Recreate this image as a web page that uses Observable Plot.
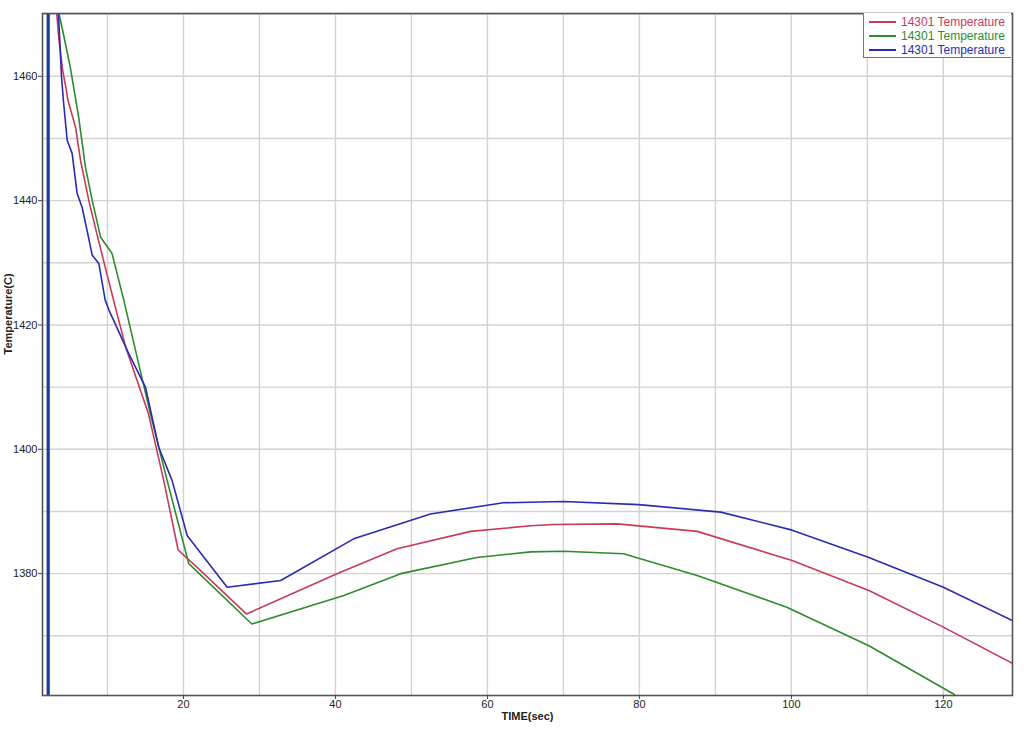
<!DOCTYPE html>
<html>
<head>
<meta charset="utf-8">
<script src="https://cdn.jsdelivr.net/npm/d3@7"></script>
<script src="https://cdn.jsdelivr.net/npm/@observablehq/plot@0.6"></script>
<style>
  html, body { margin: 0; padding: 0; background: #fff; }
  #wrap { position: relative; width: 1024px; height: 733px; font-family: "Liberation Sans", Arial, sans-serif; }
  #legend { position: absolute; left: 863px; top: 13px; width: 148px; height: 45px; border: 1px solid #777; border-top: none; border-right: none; background: #fff; font-size: 12px; box-sizing: border-box; padding-top: 2px; }
  .row { display: flex; align-items: center; height: 14px; }
  .sw { width: 27px; height: 0; border-top: 2px solid; margin-left: 5px; margin-right: 5px; }
</style>
</head>
<body>
<div id="wrap"></div>
<script>
// ---- data ----
const seriesNames = ["14301 Temperature", "14301 Temperature", "14301 Temperature"];
const seriesColors = ["#c83a58", "#2e8b2e", "#2b2bb0"];

const redTime = [3.2, 3.6, 4.1, 4.6, 4.8, 5.8, 6.45, 7.55, 8.6, 9.7, 10.8, 12.4, 15.4, 17.4, 19.3, 21.8, 28.3, 40.2, 48.1, 57.8, 65.7, 68.7, 77.1, 87.6, 100.1, 110.2, 120.0, 129.2];
const redTemp = [1472, 1466, 1461, 1457.7, 1456.1, 1451.8, 1446.5, 1440, 1434.7, 1429.3, 1424, 1416.4, 1405.7, 1395, 1383.8, 1381.0, 1373.5, 1380.0, 1384.0, 1386.8, 1387.7, 1387.9, 1388.0, 1386.8, 1382.1, 1377.3, 1371.4, 1365.5];

const greenTime = [3.4, 3.6, 4.1, 5.1, 6.2, 7.1, 8.0, 9.1, 10.6, 12.15, 13.6, 15.65, 17.85, 20.25, 20.7, 29.0, 41.1, 48.6, 58.6, 65.7, 70.0, 77.9, 87.6, 99.4, 110.2, 121.4, 125];
const greenTemp = [1472, 1470.1, 1467.4, 1461.5, 1453.5, 1445.4, 1440, 1434.1, 1431.5, 1424, 1416.4, 1405.7, 1395, 1383.7, 1381.6, 1371.9, 1376.5, 1380.0, 1382.6, 1383.5, 1383.6, 1383.2, 1379.7, 1374.6, 1368.4, 1360.6, 1356];

const blueTime = [3.3, 3.55, 3.95, 4.2, 4.7, 5.35, 6.0, 6.67, 7.4, 8.0, 8.86, 9.7, 10.3, 12.8, 15.0, 16.75, 18.5, 20.5, 25.75, 32.8, 42.4, 52.5, 62.1, 70.0, 79.9, 90.7, 100.1, 110.2, 120.0, 129.2];
const blueTemp = [1472, 1470.1, 1460, 1456.1, 1449.7, 1447.6, 1441.2, 1438.9, 1434.7, 1431.2, 1429.9, 1424, 1422.1, 1415.4, 1410, 1400.3, 1395, 1386.1, 1377.8, 1378.9, 1385.6, 1389.6, 1391.4, 1391.6, 1391.1, 1389.9, 1387.0, 1382.6, 1377.8, 1372.4];

const markerTime = [2.2];
const xTicks = [20, 40, 60, 80, 100, 120];
const yTicks = [1380, 1400, 1420, 1440, 1460];
const xGrid = [10, 20, 30, 40, 50, 60, 70, 80, 90, 100, 110, 120];
const yGrid = [1370, 1380, 1390, 1400, 1410, 1420, 1430, 1440, 1450, 1460, 1470];
const xDomain = [1.45, 129.1];
const yDomain = [1360.4, 1470.1];

// ---- build tables ----
const toRows = (ts, vs) => ts.map((t, i) => ({t, v: vs[i]}));
const red = toRows(redTime, redTemp);
const green = toRows(greenTime, greenTemp);
const blue = toRows(blueTime, blueTemp);

const chart = Plot.plot({
  width: 1024,
  height: 733,
  marginLeft: 42,
  marginRight: 12,
  marginTop: 13,
  marginBottom: 38,
  style: {fontFamily: "'Liberation Sans', Arial, sans-serif", fontSize: "11px", color: "#222", background: "#fff"},
  x: {domain: xDomain},
  y: {domain: yDomain},
  marks: [
    Plot.gridX(xGrid, {stroke: "#d2d2d2", strokeOpacity: 1, strokeWidth: 1.4}),
    Plot.gridY(yGrid, {stroke: "#d2d2d2", strokeOpacity: 1, strokeWidth: 1.4}),
    Plot.ruleX(markerTime, {stroke: "#1a3a9c", strokeWidth: 3.2}),
    Plot.line(red, {x: "t", y: "v", stroke: seriesColors[0], strokeWidth: 1.6, clip: true}),
    Plot.line(green, {x: "t", y: "v", stroke: seriesColors[1], strokeWidth: 1.6, clip: true}),
    Plot.line(blue, {x: "t", y: "v", stroke: seriesColors[2], strokeWidth: 1.6, clip: true}),
    Plot.frame({stroke: "#555", strokeWidth: 1.6}),
    Plot.axisX(xTicks, {tickSize: 4, tickPadding: 1, label: null, tickFormat: "d", stroke: "#444", fill: "#222"}),
    Plot.axisY(yTicks, {tickSize: 4, tickPadding: 1, label: null, tickFormat: "d", stroke: "#444", fill: "#222"}),
    Plot.text(["TIME(sec)"], {frameAnchor: "bottom", dy: 24, fontWeight: "bold", fontSize: 11, fill: "#222"}),
    Plot.text(["Temperature(C)"], {frameAnchor: "left", dx: -34, rotate: -90, fontWeight: "bold", fontSize: 11, fill: "#222"})
  ]
});

const wrap = document.getElementById("wrap");
wrap.appendChild(chart);

const legend = document.createElement("div");
legend.id = "legend";
seriesNames.forEach((name, i) => {
  const row = document.createElement("div");
  row.className = "row";
  const sw = document.createElement("span");
  sw.className = "sw";
  sw.style.borderTopColor = seriesColors[i];
  const label = document.createElement("span");
  label.textContent = name;
  label.style.color = seriesColors[i];
  row.appendChild(sw);
  row.appendChild(label);
  legend.appendChild(row);
});
wrap.appendChild(legend);
</script>
</body>
</html>
